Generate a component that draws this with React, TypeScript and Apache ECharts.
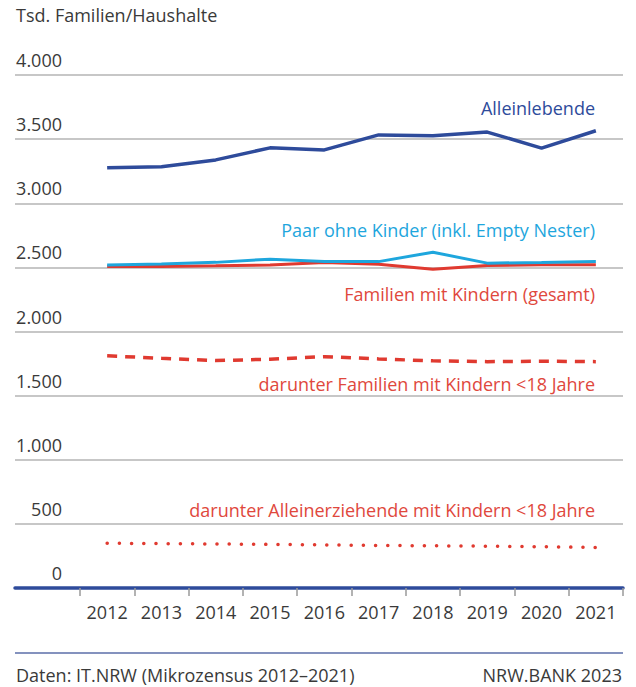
import React, { useEffect, useRef } from "react";
import * as echarts from "echarts";

const years = [2012, 2013, 2014, 2015, 2016, 2017, 2018, 2019, 2020, 2021];
const alleinlebende = [3276, 3284, 3338, 3432, 3416, 3533, 3526, 3555, 3430, 3565];
const paarOhneKinder = [2519, 2527, 2539, 2564, 2545, 2545, 2618, 2533, 2538, 2545];
const familienGesamt = [2506, 2506, 2512, 2519, 2538, 2525, 2486, 2514, 2520, 2520];
const familienU18 = [1810, 1791, 1773, 1784, 1804, 1786, 1771, 1765, 1768, 1765];
const alleinerziehendeU18 = [349, 346, 343, 340, 336, 332, 329, 326, 322, 316];
const yTicks = [0, 500, 1000, 1500, 2000, 2500, 3000, 3500, 4000];
const xTickBounds = [2011.5, 2012.5, 2013.5, 2014.5, 2015.5, 2016.5, 2017.5, 2018.5, 2019.5, 2020.5, 2021.5];

const seriesNames = [
  "Alleinlebende",
  "Paar ohne Kinder (inkl. Empty Nester)",
  "Familien mit Kindern (gesamt)",
  "darunter Familien mit Kindern <18 Jahre",
  "darunter Alleinerziehende mit Kindern <18 Jahre",
];

const DARK_BLUE = "#2e4b9b";
const LIGHT_BLUE = "#1ea6dd";
const RED = "#e03a30";
const RED_TEXT = "#e0483d";
const TEXT = "#3a3a3a";
const FONT = "'Open Sans', sans-serif";

const pairs = (vals: number[]) => years.map((y, i) => [y, vals[i]]);

export default function App() {
  const ref = useRef<HTMLDivElement>(null);
  useEffect(() => {
    document.body.style.margin = "0";
    if (!ref.current) return;
    const chart = echarts.init(ref.current, null, { renderer: "svg" });
    const fmt = (v: number) => v.toLocaleString("de-DE");
    const label = (text: string, y: number, fill: string) => ({
      type: "text",
      x: 595,
      y,
      style: { text, fill, fontSize: 18, fontFamily: FONT, align: "right", verticalAlign: "middle" },
    });
    chart.setOption({
      animation: false,
      backgroundColor: "#ffffff",
      textStyle: { fontFamily: FONT },
      grid: { left: 15, right: 13, top: 75, bottom: 99 },
      xAxis: {
        type: "value",
        min: 2010.303,
        max: 2021.5,
        splitLine: { show: false },
        axisLine: { show: true, onZero: false, lineStyle: { color: DARK_BLUE, width: 3.5 } },
        axisTick: {
          show: true,
          length: 8,
          customValues: xTickBounds,
          lineStyle: { color: "#9a9a9a", width: 1.5 },
        },
        axisLabel: {
          customValues: years,
          formatter: (v: number) => String(v),
          color: TEXT,
          fontSize: 18,
          fontFamily: FONT,
          margin: 15,
        },
      },
      yAxis: {
        type: "value",
        min: 0,
        max: 4000,
        interval: 500,
        axisLine: { show: false },
        axisTick: { show: false },
        splitLine: { show: true, lineStyle: { color: "#b4b4b4", width: 1.5 } },
        axisLabel: {
          inside: true,
          align: "right",
          verticalAlign: "bottom",
          lineHeight: 30,
          margin: 47,
          color: TEXT,
          fontSize: 18,
          fontFamily: FONT,
          formatter: (v: number) => (yTicks.includes(v) ? fmt(v) : ""),
        },
      },
      series: [
        {
          name: seriesNames[0],
          type: "line",
          data: pairs(alleinlebende),
          showSymbol: false,
          lineStyle: { color: DARK_BLUE, width: 3.5 },
          z: 5,
        },
        {
          name: seriesNames[1],
          type: "line",
          data: pairs(paarOhneKinder),
          showSymbol: false,
          lineStyle: { color: LIGHT_BLUE, width: 3 },
          z: 4,
        },
        {
          name: seriesNames[2],
          type: "line",
          data: pairs(familienGesamt),
          showSymbol: false,
          lineStyle: { color: RED, width: 3 },
          z: 3,
        },
        {
          name: seriesNames[3],
          type: "line",
          data: pairs(familienU18),
          showSymbol: false,
          lineStyle: { color: RED, width: 3.5, type: [10, 8] },
        },
        {
          name: seriesNames[4],
          type: "line",
          data: pairs(alleinerziehendeU18),
          showSymbol: false,
          lineStyle: { color: RED, width: 3.5, type: [0.1, 12.1], cap: "round" },
        },
      ],
      graphic: [
        {
          type: "text",
          left: 16,
          top: 6,
          style: { text: "Tsd. Familien/Haushalte", fill: TEXT, fontSize: 18, fontFamily: FONT },
        },
        label(seriesNames[0], 108, DARK_BLUE),
        label(seriesNames[1], 230, LIGHT_BLUE),
        label(seriesNames[2], 294, RED_TEXT),
        label(seriesNames[3], 384, RED_TEXT),
        label(seriesNames[4], 510, RED_TEXT),
        {
          type: "line",
          shape: { x1: 15, y1: 653, x2: 623, y2: 653 },
          style: { stroke: "#5b6ea8", lineWidth: 1.5 },
        },
        {
          type: "text",
          x: 16,
          y: 675,
          style: { text: "Daten: IT.NRW (Mikrozensus 2012–2021)", fill: TEXT, fontSize: 18, lineHeight: 20, fontFamily: FONT, verticalAlign: "middle" },
        },
        {
          type: "text",
          x: 622,
          y: 675,
          style: { text: "NRW.BANK 2023", fill: TEXT, fontSize: 18, lineHeight: 20, fontFamily: FONT, align: "right", verticalAlign: "middle" },
        },
      ],
    });
    return () => chart.dispose();
  }, []);
  return <div ref={ref} style={{ width: 636, height: 687 }} />;
}
